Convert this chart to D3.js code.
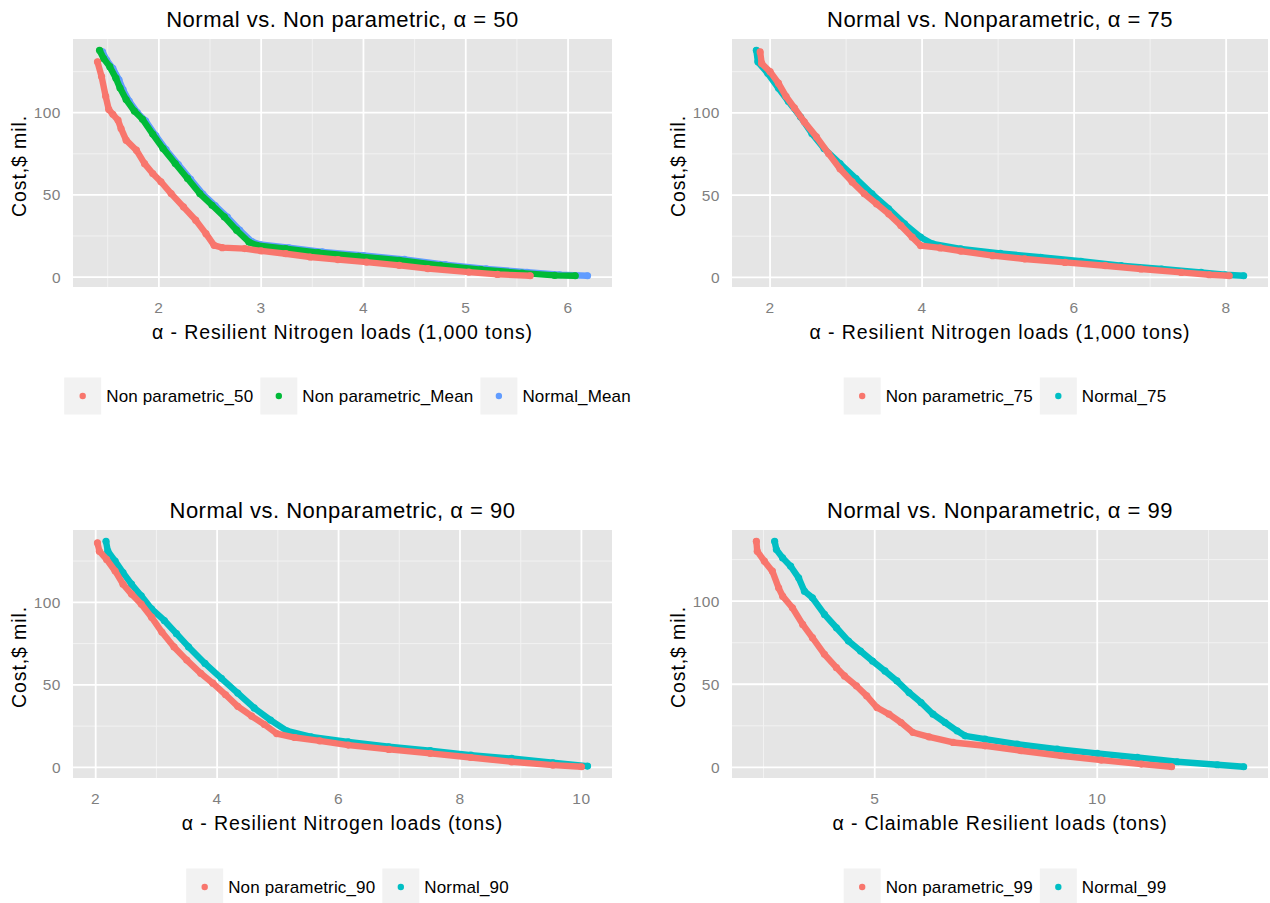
<!DOCTYPE html>
<html>
<head>
<meta charset="utf-8">
<script src="https://cdn.jsdelivr.net/npm/d3@7"></script>
<style>
  body { margin: 0; background: #fff; }
  svg { display: block; }
  text { font-family: "Liberation Sans", Arial, Helvetica, sans-serif; }
</style>
</head>
<body>
<svg id="chart" width="1270" height="903"></svg>
<script>
// ---- Data: [load (x), cost in $ mil. (y)] ----
const np50 = [[1.40,131],[1.44,122],[1.48,110],[1.51,102],[1.55,99],[1.60,95.5],[1.63,90.4],[1.68,83.3],[1.78,77.2],[1.86,69],[1.94,63],[2.02,58],[2.12,50.8],[2.24,42.7],[2.36,34.6],[2.46,26.4],[2.54,19.3],[2.62,17.9],[2.84,17.3],[3.0,15.9],[3.24,14.2],[3.48,12.2],[3.75,10.6],[4.03,9.1],[4.35,7.1],[4.63,5.1],[5.03,3.0],[5.31,1.6],[5.63,0.8]];
const npMean = [[1.42,138],[1.46,133],[1.52,128],[1.58,121],[1.62,115],[1.68,108],[1.76,101],[1.84,96],[1.94,87],[2.04,78.3],[2.16,69.1],[2.28,60],[2.40,50.8],[2.52,43.7],[2.64,36.6],[2.76,28.5],[2.88,21.3],[2.96,19.3],[3.24,17.3],[3.56,14.8],[3.95,12.6],[4.35,10.2],[4.75,7.1],[5.15,4.5],[5.55,2.4],[5.87,1.0],[6.07,0.8]];
const normalMean = [[1.45,137],[1.49,132],[1.55,127],[1.61,120],[1.65,114],[1.71,107],[1.79,100],[1.87,95],[1.97,86],[2.07,77.5],[2.19,68.5],[2.31,59.5],[2.43,50.5],[2.55,43.5],[2.67,36.5],[2.79,28.5],[2.91,21.5],[2.99,19.8],[3.27,17.8],[3.6,15.3],[4.0,13.1],[4.4,10.7],[4.8,7.6],[5.2,5.0],[5.6,2.9],[5.92,1.4],[6.19,0.8]];

const np75 = [[1.87,137],[1.89,130],[2.0,125],[2.11,118],[2.21,110],[2.32,103],[2.45,94.5],[2.61,85.4],[2.77,75.2],[2.92,66],[3.08,58],[3.24,50.8],[3.40,44.7],[3.56,38.6],[3.72,31.5],[3.87,24.4],[3.98,19.3],[4.24,17.9],[4.51,15.9],[4.93,13.2],[5.35,11.2],[5.88,9.1],[6.41,7.1],[6.88,5.1],[7.41,3.0],[7.78,1.6],[8.04,1.0]];
const normal75 = [[1.82,138],[1.84,131],[1.97,124],[2.11,115],[2.24,107],[2.40,97.6],[2.55,87.4],[2.71,78.3],[2.92,69.1],[3.13,60],[3.34,50.8],[3.56,41.7],[3.77,32.5],[3.98,24.4],[4.14,20.3],[4.51,17.3],[5.03,14.6],[5.56,12.2],[6.09,9.8],[6.62,7.1],[7.15,5.1],[7.67,3.0],[7.99,1.6],[8.23,1.0]];

const np90 = [[2.03,136],[2.06,131],[2.18,126],[2.32,119],[2.45,111],[2.59,105],[2.75,99],[2.92,91],[3.09,82],[3.29,73],[3.50,65],[3.73,57],[3.93,51],[4.14,44],[4.34,37],[4.57,31],[4.78,26],[4.98,20.5],[5.28,18.1],[5.69,16.1],[6.16,13.5],[6.83,10.9],[7.51,8.5],[8.18,6.0],[8.85,3.4],[9.53,1.4],[10.0,0.4]];
const normal90 = [[2.17,137],[2.20,131],[2.32,125],[2.45,118],[2.59,111],[2.75,104],[2.92,96],[3.13,89],[3.33,81],[3.53,73],[3.80,63],[4.07,54],[4.34,45],[4.61,36],[4.88,28.6],[5.15,22.1],[5.55,18.5],[6.16,15.5],[6.83,12.5],[7.51,10.1],[8.18,7.4],[8.85,5.4],[9.53,2.8],[10.1,0.8]];

const np99 = [[2.34,136],[2.36,130],[2.52,124],[2.70,118],[2.84,108],[2.93,103],[3.15,96],[3.38,86],[3.60,78],[3.87,68],[4.14,60],[4.32,55],[4.59,49],[4.82,43],[5.05,36],[5.32,32],[5.59,27],[5.86,21],[6.22,18.4],[6.76,15],[7.48,13],[8.29,10],[9.19,7],[10.09,4.4],[10.99,2],[11.67,0.4]];
const normal99 = [[2.75,136],[2.79,131],[2.93,126],[3.11,121],[3.29,114],[3.42,106],[3.60,102],[3.87,92],[4.14,84],[4.41,76],[4.68,70],[4.95,64],[5.23,58],[5.50,52],[5.77,45],[6.04,39],[6.31,32],[6.58,27],[6.85,22],[7.03,19],[7.48,17],[8.20,14],[9.10,11],[10.0,8.4],[10.9,6],[11.8,3.4],[12.7,1.6],[13.29,0.4]];

// ---- Axis breaks ----
const yTicks = [0, 50, 100];
const xTicks50 = [2, 3, 4, 5, 6];
const xTicks75 = [2, 4, 6, 8];
const xTicks90 = [2, 4, 6, 8, 10];
const xTicks99 = [5, 10];

// ---- Titles and labels ----
const titles = ["Normal vs. Non parametric, \u03b1 = 50", "Normal vs. Nonparametric, \u03b1 = 75",
                "Normal vs. Nonparametric, \u03b1 = 90", "Normal vs. Nonparametric, \u03b1 = 99"];
const xTitles = ["\u03b1 - Resilient Nitrogen loads (1,000 tons)", "\u03b1 - Resilient Nitrogen loads (1,000 tons)",
                 "\u03b1 - Resilient Nitrogen loads (tons)", "\u03b1 - Claimable Resilient loads (tons)"];
const yTitle = "Cost,$ mil.";

const RED = "#F8766D", GREEN = "#00BA38", BLUE = "#619CFF", CYAN = "#00BFC4";

const panels = [
  { x0: 73, x1: 612, y0: 39, y1: 287, xTicks: xTicks50,
    draw: [{ name: "Normal_Mean", data: normalMean, color: BLUE },
           { name: "Non parametric_Mean", data: npMean, color: GREEN },
           { name: "Non parametric_50", data: np50, color: RED }],
    legendOrder: ["Non parametric_50", "Non parametric_Mean", "Normal_Mean"] },
  { x0: 732, x1: 1268, y0: 39, y1: 287, xTicks: xTicks75,
    draw: [{ name: "Normal_75", data: normal75, color: CYAN },
           { name: "Non parametric_75", data: np75, color: RED }],
    legendOrder: ["Non parametric_75", "Normal_75"] },
  { x0: 73, x1: 612, y0: 530, y1: 778, xTicks: xTicks90,
    draw: [{ name: "Normal_90", data: normal90, color: CYAN },
           { name: "Non parametric_90", data: np90, color: RED }],
    legendOrder: ["Non parametric_90", "Normal_90"] },
  { x0: 732, x1: 1268, y0: 530, y1: 778, xTicks: xTicks99,
    draw: [{ name: "Normal_99", data: normal99, color: CYAN },
           { name: "Non parametric_99", data: np99, color: RED }],
    legendOrder: ["Non parametric_99", "Normal_99"] }
];

const svg = d3.select("#chart");

// 5% padding on each side of the data range, like the default continuous scale
function padded(ext) {
  const d = (ext[1] - ext[0]) * 0.05;
  return [ext[0] - d, ext[1] + d];
}
// minor breaks halfway between majors, including one step beyond each end
function minorBreaks(major, domain) {
  const step = major[1] - major[0];
  const out = [];
  for (let v = major[0] - step / 2; v <= domain[1]; v += step) {
    if (v >= domain[0]) out.push(v);
  }
  return out;
}

panels.forEach((p, i) => {
  const all = p.draw.flatMap(s => s.data);
  const x = d3.scaleLinear().domain(padded(d3.extent(all, d => d[0]))).range([p.x0, p.x1]);
  const y = d3.scaleLinear().domain(padded(d3.extent(all, d => d[1]))).range([p.y1, p.y0]);
  const g = svg.append("g");

  // panel background
  g.append("rect").attr("x", p.x0).attr("y", p.y0)
    .attr("width", p.x1 - p.x0).attr("height", p.y1 - p.y0).attr("fill", "#E5E5E5");

  // minor grid
  const xMinor = minorBreaks(p.xTicks, x.domain());
  const yMinor = minorBreaks(yTicks, y.domain());
  g.selectAll(".gxm").data(xMinor).join("line")
    .attr("x1", d => x(d)).attr("x2", d => x(d)).attr("y1", p.y0).attr("y2", p.y1)
    .attr("stroke", "#F2F2F2").attr("stroke-width", 1);
  g.selectAll(".gym").data(yMinor).join("line")
    .attr("y1", d => y(d)).attr("y2", d => y(d)).attr("x1", p.x0).attr("x2", p.x1)
    .attr("stroke", "#F2F2F2").attr("stroke-width", 1);
  // major grid
  g.selectAll(".gx").data(p.xTicks).join("line")
    .attr("x1", d => x(d)).attr("x2", d => x(d)).attr("y1", p.y0).attr("y2", p.y1)
    .attr("stroke", "#FFFFFF").attr("stroke-width", 1.8);
  g.selectAll(".gy").data(yTicks).join("line")
    .attr("y1", d => y(d)).attr("y2", d => y(d)).attr("x1", p.x0).attr("x2", p.x1)
    .attr("stroke", "#FFFFFF").attr("stroke-width", 1.8);

  // point series: dense points drawn as a connected band of markers
  const line = d3.line().x(d => x(d[0])).y(d => y(d[1]));
  p.draw.forEach(s => {
    g.append("path").attr("d", line(s.data)).attr("fill", "none")
      .attr("stroke", s.color).attr("stroke-width", 6.4)
      .attr("stroke-linejoin", "round").attr("stroke-linecap", "round");
    g.selectAll(null).data(s.data).join("circle")
      .attr("cx", d => x(d[0])).attr("cy", d => y(d[1])).attr("r", 3.6)
      .attr("fill", s.color);
  });

  // tick labels
  g.selectAll(".xt").data(p.xTicks).join("text")
    .attr("x", d => x(d)).attr("y", p.y1 + 26)
    .attr("text-anchor", "middle").attr("font-size", 15.5).attr("letter-spacing", 0.5)
    .attr("fill", "#7F7F7F")
    .text(d => d);
  g.selectAll(".yt").data(yTicks).join("text")
    .attr("x", p.x0 - 12).attr("y", d => y(d)).attr("dy", "0.36em")
    .attr("text-anchor", "end").attr("font-size", 15.5).attr("letter-spacing", 0.5)
    .attr("fill", "#7F7F7F")
    .text(d => d);

  // titles
  g.append("text").attr("x", (p.x0 + p.x1) / 2).attr("y", p.y0 - 12)
    .attr("text-anchor", "middle").attr("font-size", 22).attr("letter-spacing", 0.5)
    .attr("fill", "#000")
    .text(titles[i]);
  g.append("text").attr("x", (p.x0 + p.x1) / 2).attr("y", p.y1 + 52)
    .attr("text-anchor", "middle").attr("font-size", 19.5).attr("letter-spacing", 0.9)
    .attr("fill", "#000")
    .text(xTitles[i]);
  g.append("text")
    .attr("transform", `translate(${p.x0 - 47},${(p.y0 + p.y1) / 2 + 3}) rotate(-90)`)
    .attr("text-anchor", "middle").attr("font-size", 19.5).attr("letter-spacing", 0.9)
    .attr("fill", "#000")
    .text(yTitle);

  // legend
  const colorOf = new Map(p.draw.map(s => [s.name, s.color]));
  const key = 37, ly = p.y0 + 357;
  const lg = g.append("g");
  let cx = 0;
  p.legendOrder.forEach(name => {
    const item = lg.append("g").attr("transform", `translate(${cx},0)`);
    item.append("rect").attr("x", 0).attr("y", -key / 2).attr("width", key).attr("height", key)
      .attr("fill", "#F2F2F2");
    item.append("circle").attr("cx", key / 2).attr("cy", 0).attr("r", 3.2).attr("fill", colorOf.get(name));
    const t = item.append("text").attr("x", key + 5).attr("y", 0).attr("dy", "0.36em")
      .attr("font-size", 17).attr("letter-spacing", 0.15).attr("fill", "#000").text(name);
    cx += key + 5 + t.node().getComputedTextLength() + 7;
  });
  const lw = cx - 7;
  lg.attr("transform", `translate(${(p.x0 + p.x1) / 2 + 5 - lw / 2},${ly})`);
});
</script>
</body>
</html>
